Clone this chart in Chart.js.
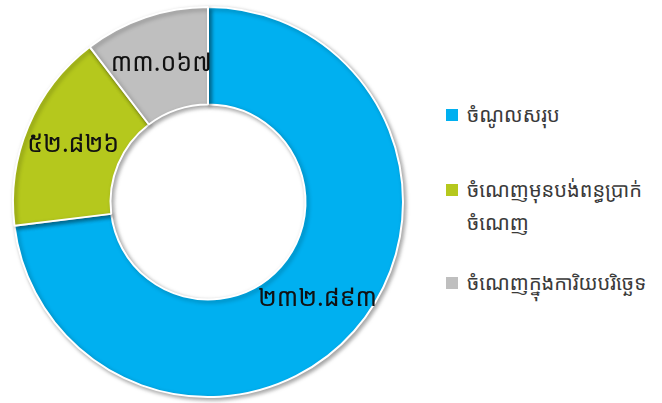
<!DOCTYPE html>
<html>
<head>
<meta charset="utf-8">
<script src="https://cdn.jsdelivr.net/npm/chart.js@4"></script>
<style>
  html, body { margin: 0; padding: 0; background: #fff; }
  #wrap { position: relative; width: 662px; height: 403px; overflow: hidden; }
  #box { position: absolute; left: 0; top: 0; width: 416px; height: 403px; }
  #legend { position: absolute; left: 446px; top: 0; width: 216px; font-family: "Noto Sans Khmer", "Khmer OS", "Khmer OS System", "Hanuman", "Noto Sans", sans-serif; font-size: 20px; color: #3a3a3a; }
  .item { position: absolute; left: 0; display: flex; align-items: flex-start; }
  .sq { width: 12px; height: 12px; margin-top: 11px; margin-right: 9px; flex: none; }
  .txt { line-height: 33px; }
</style>
</head>
<body>
<div id="wrap">
  <div id="box"><canvas id="donut"></canvas></div>
  <div id="legend"></div>
</div>
<script>
const labels = ['ចំណូលសរុប', 'ចំណេញមុនបង់ពន្ធប្រាក់ចំណេញ', 'ចំណេញក្នុងការិយបរិច្ឆេទ'];
const legendLines = [['ចំណូលសរុប'], ['ចំណេញមុនបង់ពន្ធប្រាក់', 'ចំណេញ'], ['ចំណេញក្នុងការិយបរិច្ឆេទ']];
const values = [232.893, 52.826, 33.067];
const colors = ['#00b0f0', '#b5c81d', '#bfbfbf'];
const legendTops = [98, 173, 266];

const khmerDigits = '០១២៣៤៥៦៧៨៩';
function toKhmer(v) {
  return v.toFixed(3).replace(/[0-9]/g, d => khmerDigits[+d]);
}

// legend on the right
const lg = document.getElementById('legend');
labels.forEach((l, i) => {
  const it = document.createElement('div');
  it.className = 'item';
  it.style.top = legendTops[i] + 'px';
  const sq = document.createElement('div');
  sq.className = 'sq';
  sq.style.background = colors[i];
  const tx = document.createElement('div');
  tx.className = 'txt';
  tx.innerHTML = legendLines[i].join('<br>');
  it.appendChild(sq);
  it.appendChild(tx);
  lg.appendChild(it);
});

const shadow = {
  id: 'shadow',
  beforeDatasetDraw(chart) {
    const ctx = chart.ctx;
    ctx.save();
    ctx.shadowColor = 'rgba(0,0,0,0.35)';
    ctx.shadowBlur = 4;
    ctx.shadowOffsetX = 2;
    ctx.shadowOffsetY = 2;
  },
  afterDatasetDraw(chart) {
    chart.ctx.restore();
  }
};

const valueLabels = {
  id: 'valueLabels',
  afterDatasetsDraw(chart) {
    const ctx = chart.ctx;
    const meta = chart.getDatasetMeta(0);
    ctx.save();
    ctx.font = '25px "Noto Sans Khmer", "Khmer OS", "Hanuman", "Noto Sans", sans-serif';
    ctx.fillStyle = '#111';
    ctx.textAlign = 'center';
    ctx.textBaseline = 'middle';
    meta.data.forEach((arc, i) => {
      const p = arc.tooltipPosition();
      ctx.fillText(toKhmer(values[i]), p.x, p.y);
    });
    ctx.restore();
  }
};

new Chart(document.getElementById('donut'), {
  type: 'doughnut',
  data: {
    labels: labels,
    datasets: [{
      data: values,
      backgroundColor: colors,
      borderColor: '#fff',
      borderWidth: 2
    }]
  },
  options: {
    responsive: true,
    maintainAspectRatio: false,
    animation: false,
    cutout: '50%',
    layout: { padding: { top: 6, bottom: 5, left: 0, right: 0 } },
    plugins: {
      legend: { display: false },
      tooltip: { enabled: false }
    }
  },
  plugins: [shadow, valueLabels]
});
</script>
</body>
</html>
